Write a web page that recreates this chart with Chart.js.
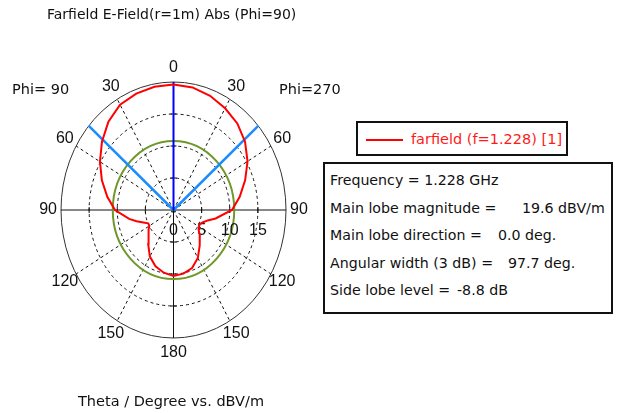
<!DOCTYPE html>
<html>
<head>
<meta charset="utf-8">
<script src="https://cdn.jsdelivr.net/npm/chart.js@4.4.1/dist/chart.umd.min.js"></script>
<style>
  body { margin: 0; background: #fff; }
  #wrap { position: relative; width: 619px; height: 413px; font-family: "DejaVu Sans", Verdana, sans-serif; color: #111; }
  #wrap canvas { position: absolute; left: 0; top: 0; }
  .txt { position: absolute; white-space: pre; line-height: 1; }
  .box { position: absolute; border: 2px solid #111; box-sizing: border-box; background: #fff; }
</style>
</head>
<body>
<div id="wrap">
  <canvas id="farfieldChart" width="619" height="413"></canvas>
  <div class="txt" style="left:47px; top:7px; font-size:14px;">Farfield E-Field(r=1m) Abs (Phi=90)</div>
  <div class="txt" style="left:12px; top:82px; font-size:14.5px;">Phi= 90</div>
  <div class="txt" style="left:279px; top:82px; font-size:14.5px;">Phi=270</div>
  <div class="txt" style="left:78px; top:394px; font-size:14.5px;">Theta / Degree vs. dBV/m</div>

  <div class="box" style="left:356px; top:121px; width:212px; height:35px;">
    <div style="position:absolute; left:8px; top:16px; width:37px; height:2px; background:#ff0000;"></div>
    <div class="txt" style="left:53px; top:9px; font-size:14.5px; color:#ff1a1a;">farfield (f=1.228) [1]</div>
  </div>

  <div class="box" id="infoBox" style="left:323px; top:162px; width:290px; height:152px; font-size:14.2px;"></div>
</div>

<script>
// theta samples (deg) and |E| in dBV/m, for each half-plane
const thetaDeg = [0, 10, 20, 30, 40, 50, 60, 70, 80, 90, 100, 105, 110, 115, 120, 125, 130, 140, 150, 160, 170, 180];
const phi270 = [19.6, 19.45, 19.0, 18.35, 17.65, 16.6, 15.2, 13.55, 11.95, 10.4, 7.6, 6.3, 5.6, 5.2, 5.2, 5.45, 6.1, 7.25, 8.65, 9.65, 10.1, 10.3];
const phi90 = [19.6, 19.55, 19.35, 19.0, 18.0, 16.6, 15.1, 13.55, 11.95, 10.4, 8.0, 6.8, 5.7, 4.95, 4.95, 5.35, 5.85, 7.0, 8.4, 9.35, 9.95, 10.3];

const mainLobeMag = 19.6;    // dBV/m
const mainLobeDir = 0.0;     // deg
const beamWidth3dB = 97.7;   // deg
const sideLobeLevel = -8.8;  // dB

const radialMax = 20;
const radialTicks = [0, 5, 10, 15];
const angleTicks = [0, 30, 60, 90, 120, 150, 180];

const infoLines = [
    ['Frequency = 1.228 GHz', '', 0],
    ['Main lobe magnitude =', '19.6 dBV/m', 197],
    ['Main lobe direction =', '0.0 deg.', 173],
    ['Angular width (3 dB) =', '97.7 deg.', 183],
    ['Side lobe level =', '-8.8 dB', 132]
];

// side = 1 -> right half (Phi=270), side = -1 -> left half (Phi=90)
function polarPoint(r, deg, side) {
    const a = deg * Math.PI / 180;
    return { x: side * r * Math.sin(a), y: r * Math.cos(a) };
}

const farfieldPts = thetaDeg.map((t, i) => polarPoint(phi270[i], t, 1))
    .concat(thetaDeg.map((t, i) => polarPoint(phi90[i], t, -1)).reverse());

const center = { x: 0, y: 0 };

const polarGrid = {
    id: 'polarGrid',
    beforeDatasetsDraw(chart) {
        const { ctx, scales: { x, y } } = chart;
        const cx = x.getPixelForValue(0);
        const cy = y.getPixelForValue(0);
        const px = p => ({ x: x.getPixelForValue(p.x), y: y.getPixelForValue(p.y) });
        const ellipse = r => {
            ctx.beginPath();
            ctx.ellipse(cx, cy, x.getPixelForValue(r) - cx, cy - y.getPixelForValue(r), 0, 0, Math.PI * 2);
            ctx.stroke();
        };

        ctx.save();
        ctx.strokeStyle = '#111';
        ctx.lineWidth = 1;

        // dashed rings
        ctx.setLineDash([3, 3]);
        radialTicks.filter(v => v > 0).forEach(ellipse);

        // dashed spokes
        angleTicks.filter(t => t % 90 !== 0).forEach(t => {
            [1, -1].forEach(side => {
                const p = px(polarPoint(radialMax, t, side));
                ctx.beginPath();
                ctx.moveTo(cx, cy);
                ctx.lineTo(p.x, p.y);
                ctx.stroke();
            });
        });

        // outer ring and axes
        ctx.setLineDash([]);
        ctx.strokeStyle = '#333';
        ellipse(radialMax);
        ctx.strokeStyle = '#111';
        ctx.beginPath();
        ctx.moveTo(x.getPixelForValue(-radialMax), cy);
        ctx.lineTo(x.getPixelForValue(radialMax), cy);
        ctx.moveTo(cx, y.getPixelForValue(radialMax));
        ctx.lineTo(cx, y.getPixelForValue(-radialMax));
        ctx.stroke();

        // tick marks on the axes
        ctx.beginPath();
        radialTicks.filter(v => v > 0).forEach(v => {
            [x.getPixelForValue(v), x.getPixelForValue(-v)].forEach(tx => {
                ctx.moveTo(tx, cy - 3); ctx.lineTo(tx, cy + 3);
            });
            [y.getPixelForValue(v), y.getPixelForValue(-v)].forEach(ty => {
                ctx.moveTo(cx - 3, ty); ctx.lineTo(cx + 3, ty);
            });
        });
        ctx.stroke();

        // side lobe level circle
        ctx.strokeStyle = '#6f982b';
        ctx.lineWidth = 2;
        ellipse(mainLobeMag + sideLobeLevel);

        // labels
        ctx.fillStyle = '#111';
        ctx.font = '16px "Liberation Sans", Arial, sans-serif';
        ctx.textAlign = 'center';
        ctx.textBaseline = 'middle';
        angleTicks.forEach(t => {
            const sides = (t === 0 || t === 180) ? [1] : [1, -1];
            sides.forEach(side => {
                const p = px(polarPoint(radialMax * 1.115, t, side));
                ctx.fillText(String(t), p.x, p.y);
            });
        });
        radialTicks.forEach(v => {
            ctx.fillText(String(v), x.getPixelForValue(v), cy + 21);
        });
        ctx.restore();
    }
};

new Chart(document.getElementById('farfieldChart').getContext('2d'), {
    type: 'scatter',
    data: {
        datasets: [
            {
                label: 'farfield (f=1.228) [1]',
                data: farfieldPts,
                showLine: true,
                borderColor: '#ff0000',
                borderWidth: 2,
                pointRadius: 0,
                tension: 0
            },
            {
                label: 'main lobe',
                data: [center, polarPoint(radialMax, mainLobeDir, 1)],
                showLine: true,
                borderColor: '#0000ff',
                borderWidth: 2,
                pointRadius: 0
            },
            {
                label: '3 dB right',
                data: [center, polarPoint(radialMax, beamWidth3dB / 2, 1)],
                showLine: true,
                borderColor: '#1a8cff',
                borderWidth: 2.5,
                pointRadius: 0
            },
            {
                label: '3 dB left',
                data: [center, polarPoint(radialMax, beamWidth3dB / 2, -1)],
                showLine: true,
                borderColor: '#1a8cff',
                borderWidth: 2.5,
                pointRadius: 0
            }
        ]
    },
    options: {
        responsive: false,
        animation: false,
        events: [],
        layout: { padding: { left: 61, right: 333, top: 82, bottom: 75 } },
        scales: {
            x: { type: 'linear', min: -radialMax, max: radialMax, display: false },
            y: { type: 'linear', min: -radialMax, max: radialMax, display: false }
        },
        plugins: {
            legend: { display: false },
            tooltip: { enabled: false }
        }
    },
    plugins: [polarGrid]
});

// info box text
const infoBox = document.getElementById('infoBox');
infoLines.forEach((line, i) => {
    const top = 9 + i * 27.5;
    const label = document.createElement('div');
    label.className = 'txt';
    label.style.left = '5px';
    label.style.top = top + 'px';
    label.textContent = line[0];
    infoBox.appendChild(label);
    if (line[1]) {
        const val = document.createElement('div');
        val.className = 'txt';
        val.style.left = line[2] + 'px';
        val.style.top = top + 'px';
        val.textContent = line[1];
        infoBox.appendChild(val);
    }
});
</script>
</body>
</html>
